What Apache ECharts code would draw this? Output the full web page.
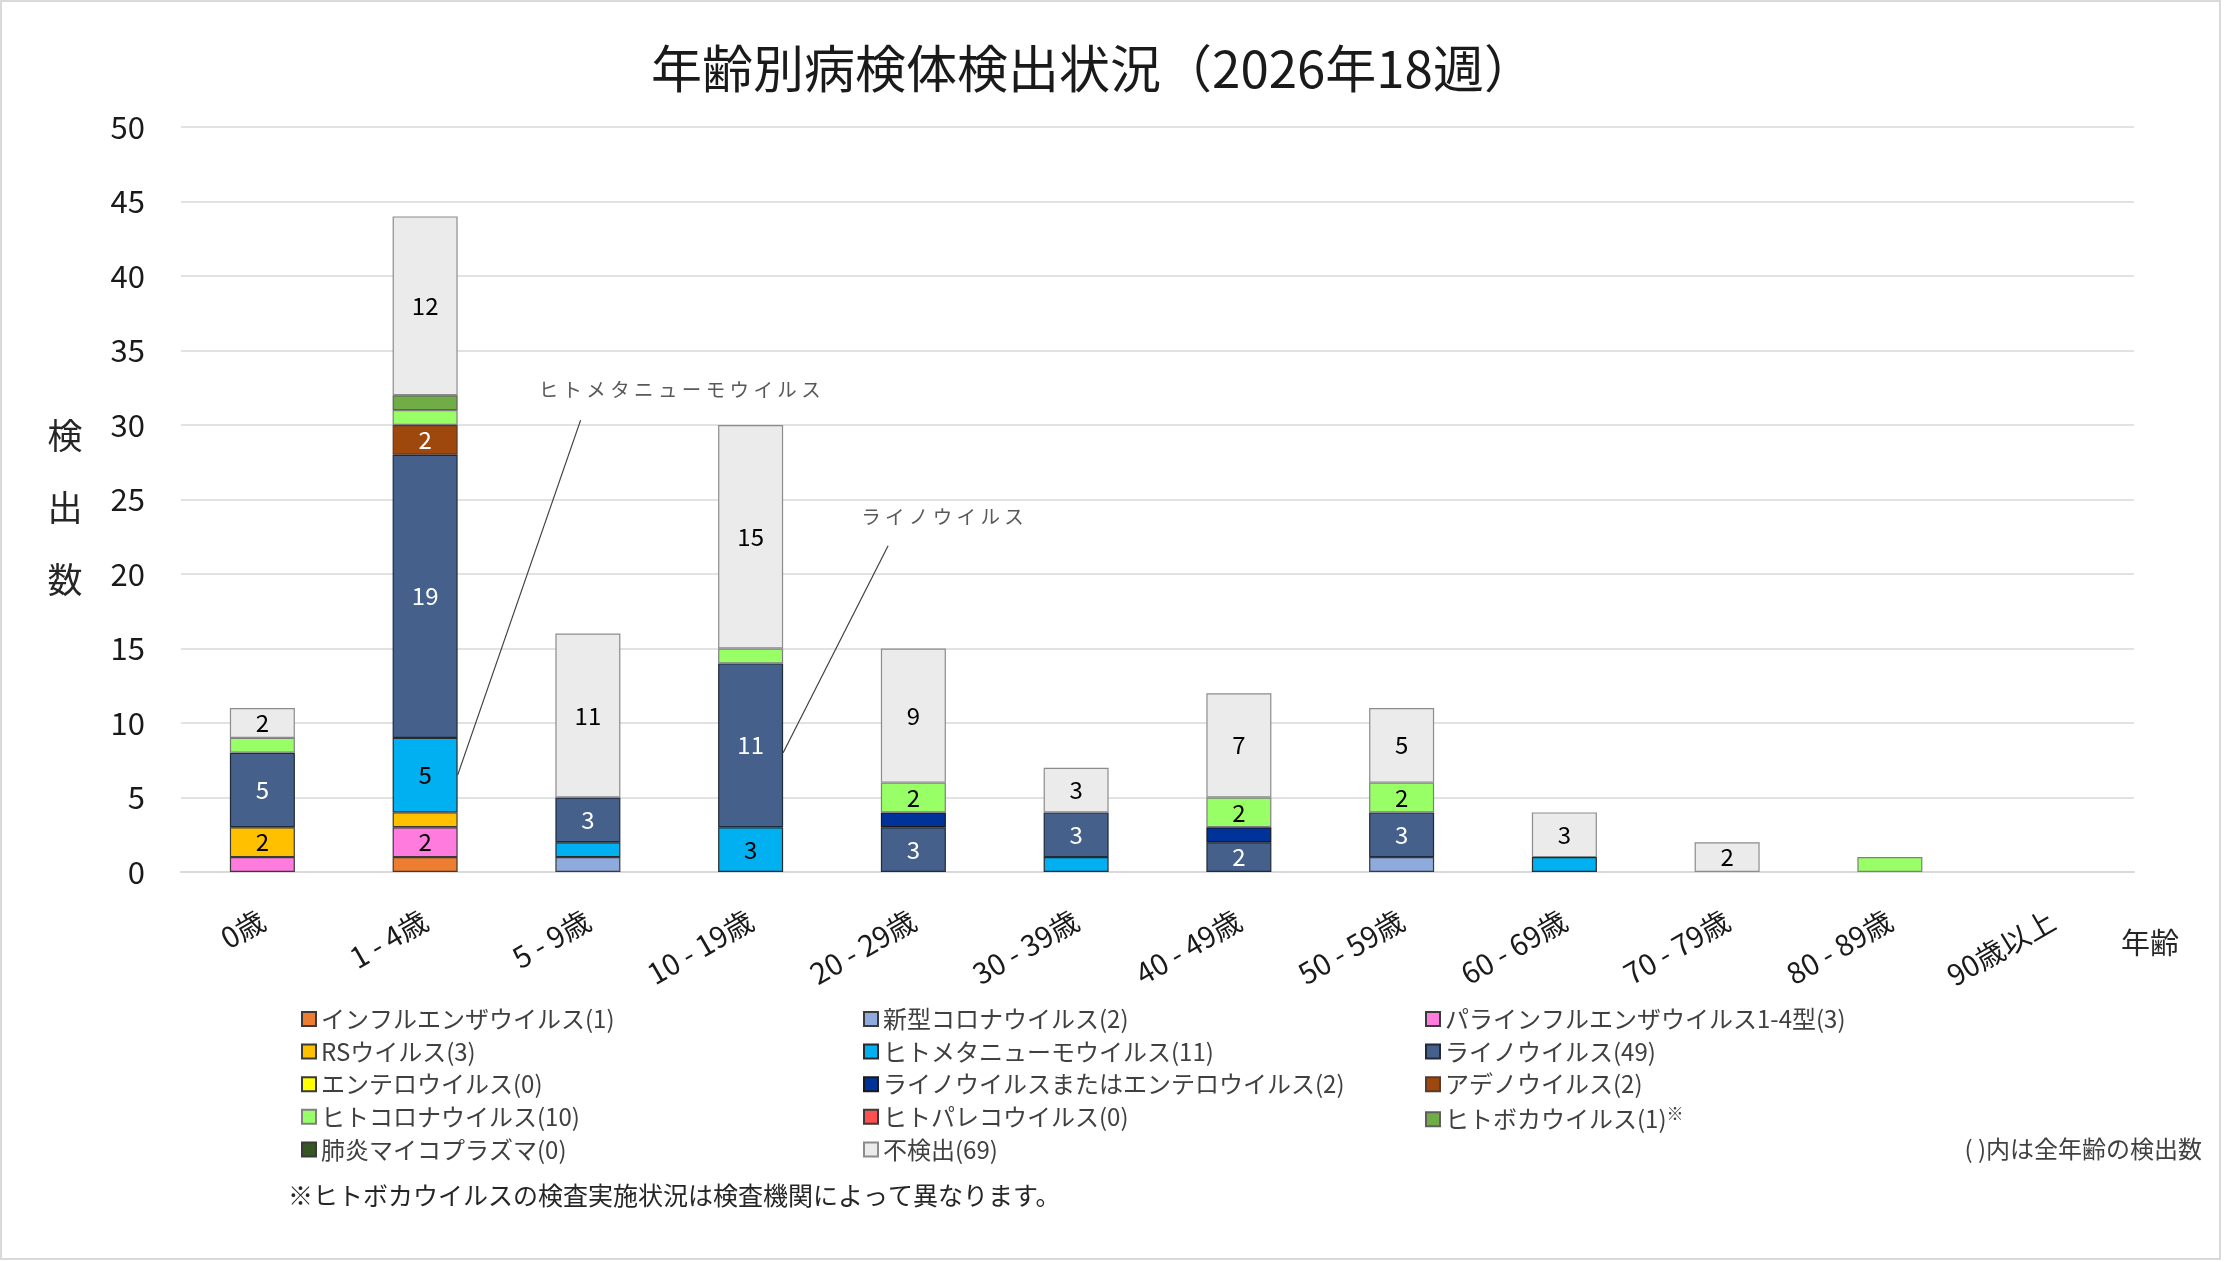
<!DOCTYPE html>
<html>
<head>
    <meta charset="utf-8">
    <title>年齢別病検体検出状況</title>
    <script src="https://cdn.jsdelivr.net/npm/echarts@6/dist/echarts.min.js"></script>
    <style>
        html, body { margin: 0; padding: 0; background: #fff; }
        #chart1 { width: 2224px; height: 1262px; }
    </style>
</head>
<body>
<div id="chart1"></div>
<script type="text/javascript">
    // 年齢区分
    const categories = ['0歳', '1 - 4歳', '5 - 9歳', '10 - 19歳', '20 - 29歳', '30 - 39歳',
        '40 - 49歳', '50 - 59歳', '60 - 69歳', '70 - 79歳', '80 - 89歳', '90歳以上'];
    const yTicks = [0, 5, 10, 15, 20, 25, 30, 35, 40, 45, 50];

    // 各ウイルスの検出数（下から積み上げ順）
    const influenza   = [0, 1, 0, 0, 0, 0, 0, 0, 0, 0, 0, 0];
    const covid19     = [0, 0, 1, 0, 0, 0, 0, 1, 0, 0, 0, 0];
    const parainfl    = [1, 2, 0, 0, 0, 0, 0, 0, 0, 0, 0, 0];
    const rsv         = [2, 1, 0, 0, 0, 0, 0, 0, 0, 0, 0, 0];
    const hmpv        = [0, 5, 1, 3, 0, 1, 0, 0, 1, 0, 0, 0];
    const rhino       = [5, 19, 3, 11, 3, 3, 2, 3, 0, 0, 0, 0];
    const entero      = [0, 0, 0, 0, 0, 0, 0, 0, 0, 0, 0, 0];
    const rhinoEntero = [0, 0, 0, 0, 1, 0, 1, 0, 0, 0, 0, 0];
    const adeno       = [0, 2, 0, 0, 0, 0, 0, 0, 0, 0, 0, 0];
    const hcov        = [1, 1, 0, 1, 2, 0, 2, 2, 0, 0, 1, 0];
    const parecho     = [0, 0, 0, 0, 0, 0, 0, 0, 0, 0, 0, 0];
    const boca        = [0, 1, 0, 0, 0, 0, 0, 0, 0, 0, 0, 0];
    const mycoplasma  = [0, 0, 0, 0, 0, 0, 0, 0, 0, 0, 0, 0];
    const notDetected = [2, 12, 11, 15, 9, 3, 7, 5, 3, 2, 0, 0];

    const FONT = '"Noto Sans CJK JP", "Noto Sans", sans-serif';

    let sum = arr => arr.reduce((a, b) => a + b, 0);

    // 名前, データ, 色, 枠色, ラベル色
    let defs = [
        ['インフルエンザウイルス', influenza, '#ED7D31', '#3a3a3a', '#000'],
        ['新型コロナウイルス', covid19, '#8FAADC', '#3a3a3a', '#000'],
        ['パラインフルエンザウイルス1-4型', parainfl, '#FF7BDD', '#3a3a3a', '#000'],
        ['RSウイルス', rsv, '#FFC000', '#3a3a3a', '#000'],
        ['ヒトメタニューモウイルス', hmpv, '#00B0F0', '#2a2a2a', '#000'],
        ['ライノウイルス', rhino, '#45608A', '#1f2a3a', '#fff'],
        ['エンテロウイルス', entero, '#FFFF00', '#3a3a3a', '#000'],
        ['ライノウイルスまたはエンテロウイルス', rhinoEntero, '#003399', '#1a1a1a', '#fff'],
        ['アデノウイルス', adeno, '#9E480E', '#5a3a2a', '#fff'],
        ['ヒトコロナウイルス', hcov, '#99FF66', '#7f7f7f', '#000'],
        ['ヒトパレコウイルス', parecho, '#FF5050', '#3a3a3a', '#000'],
        ['ヒトボカウイルス', boca, '#70AD47', '#5f5f5f', '#000'],
        ['肺炎マイコプラズマ', mycoplasma, '#375623', '#3a3a3a', '#000'],
        ['不検出', notDetected, '#EBEBEB', '#8c8c8c', '#000']
    ];

    let names = defs.map(d => d[0] + '(' + sum(d[1]) + ')');

    let series = defs.map((d, i) => ({
        name: names[i],
        type: 'bar',
        stack: 'total',
        barWidth: 65,
        data: d[1].map(v => v === 0 ? '-' : v),
        itemStyle: { color: d[2], borderColor: d[3], borderWidth: 1.2 },
        label: {
            show: true,
            position: 'inside',
            color: d[4],
            fontFamily: FONT,
            fontSize: 24,
            formatter: p => p.value >= 2 ? p.value : ''
        },
        emphasis: { disabled: true }
    }));

    // 凡例は3列
    let cols = [[0, 3, 6, 9, 12], [1, 4, 7, 10, 13], [2, 5, 8, 11]];
    let colLeft = [296, 858, 1420];
    let legends = cols.map((c, k) => ({
        orient: 'vertical',
        left: colLeft[k],
        top: 1002,
        itemWidth: 14,
        itemHeight: 14,
        itemGap: 8.6,
        icon: 'rect',
        selectedMode: false,
        data: c.map(i => names[i]),
        formatter: n => n.indexOf('ヒトボカ') === 0 ? '{n|' + n + '}{s|※}' : n,
        textStyle: {
            fontFamily: FONT, fontSize: 24, color: '#404040', lineHeight: 24,
            rich: {
                n: { fontFamily: FONT, fontSize: 24, color: '#404040' },
                s: { fontFamily: FONT, fontSize: 17, color: '#404040', padding: [0, 0, 12, 0] }
            }
        }
    }));

    let myChart1 = echarts.init(document.getElementById('chart1'));

    myChart1.setOption({
        animation: false,
        backgroundColor: '#fff',
        title: {
            text: '年齢別病検体検出状況（2026年18週）',
            left: 1088,
            textAlign: 'center',
            top: 38,
            textStyle: { fontFamily: FONT, fontSize: 51, fontWeight: 'normal', color: '#1a1a1a' }
        },
        legend: legends,
        grid: { left: 181, right: 90, top: 127, bottom: 390 },
        xAxis: {
            type: 'category',
            data: categories,
            name: '年齢',
            nameLocation: 'end',
            nameGap: -13,
            nameTextStyle: { fontFamily: FONT, fontSize: 29, color: '#262626', verticalAlign: 'top', padding: [56, 0, 0, 0] },
            axisLine: { lineStyle: { color: '#d9d9d9', width: 2 } },
            axisTick: { show: false },
            axisLabel: {
                rotate: 30,
                margin: 46,
                fontFamily: FONT,
                fontSize: 29,
                color: '#1a1a1a',
                interval: 0
            }
        },
        yAxis: {
            type: 'value',
            min: yTicks[0],
            max: yTicks[yTicks.length - 1],
            interval: yTicks[1] - yTicks[0],
            axisLine: { show: false },
            axisTick: { show: false },
            axisLabel: { margin: 36, fontFamily: FONT, fontSize: 31, color: '#1a1a1a' },
            splitLine: { lineStyle: { color: '#d9d9d9', width: 1.5 } }
        },
        series: series
    });

    // 注釈（引出線）とテキスト
    function leader(catIdx, val, dx, dy, text, tdx, tdy) {
        let p = myChart1.convertToPixel({ xAxisIndex: 0, yAxisIndex: 0 }, [catIdx, val]);
        let ex = p[0] + 32.5, ey = p[1];
        let sx = ex + dx, sy = ey + dy;
        return [
            { type: 'line', shape: { x1: sx, y1: sy, x2: ex, y2: ey }, style: { stroke: '#404040', lineWidth: 1.2 }, z: 100 },
            { type: 'text', x: sx + tdx, y: sy + tdy, style: { text: text, fontFamily: FONT, fontSize: 19.5, fill: '#595959', verticalAlign: 'middle' }, z: 100 }
        ];
    }

    let g = [];
    g = g.concat(leader(1, 6.5, 123, -355, 'ヒ ト メ タ ニ ュ ー モ ウ イ ル ス', -42, -31));
    g = g.concat(leader(3, 8, 105, -207, 'ラ イ ノ ウ イ ル ス', -27, -29));
    g.push({
        type: 'text', x: 65, y: 508,
        style: { text: '検\n出\n数', fontFamily: FONT, fontSize: 35, lineHeight: 72, fill: '#262626', align: 'center', verticalAlign: 'middle' }
    });
    g.push({
        type: 'text', x: 2202, y: 1149,
        style: { text: '( )内は全年齢の検出数', fontFamily: FONT, fontSize: 24, fill: '#404040', align: 'right', verticalAlign: 'middle' }
    });
    g.push({
        type: 'text', x: 288, y: 1195,
        style: { text: '※ヒトボカウイルスの検査実施状況は検査機関によって異なります。', fontFamily: FONT, fontSize: 25, fill: '#262626', verticalAlign: 'middle' }
    });
    g.push({
        type: 'rect', shape: { x: 1, y: 1, width: 2219, height: 1258 },
        style: { fill: 'none', stroke: '#d9d9d9', lineWidth: 2 }, z: -1
    });
    myChart1.setOption({ graphic: g });
</script>
</body>
</html>
